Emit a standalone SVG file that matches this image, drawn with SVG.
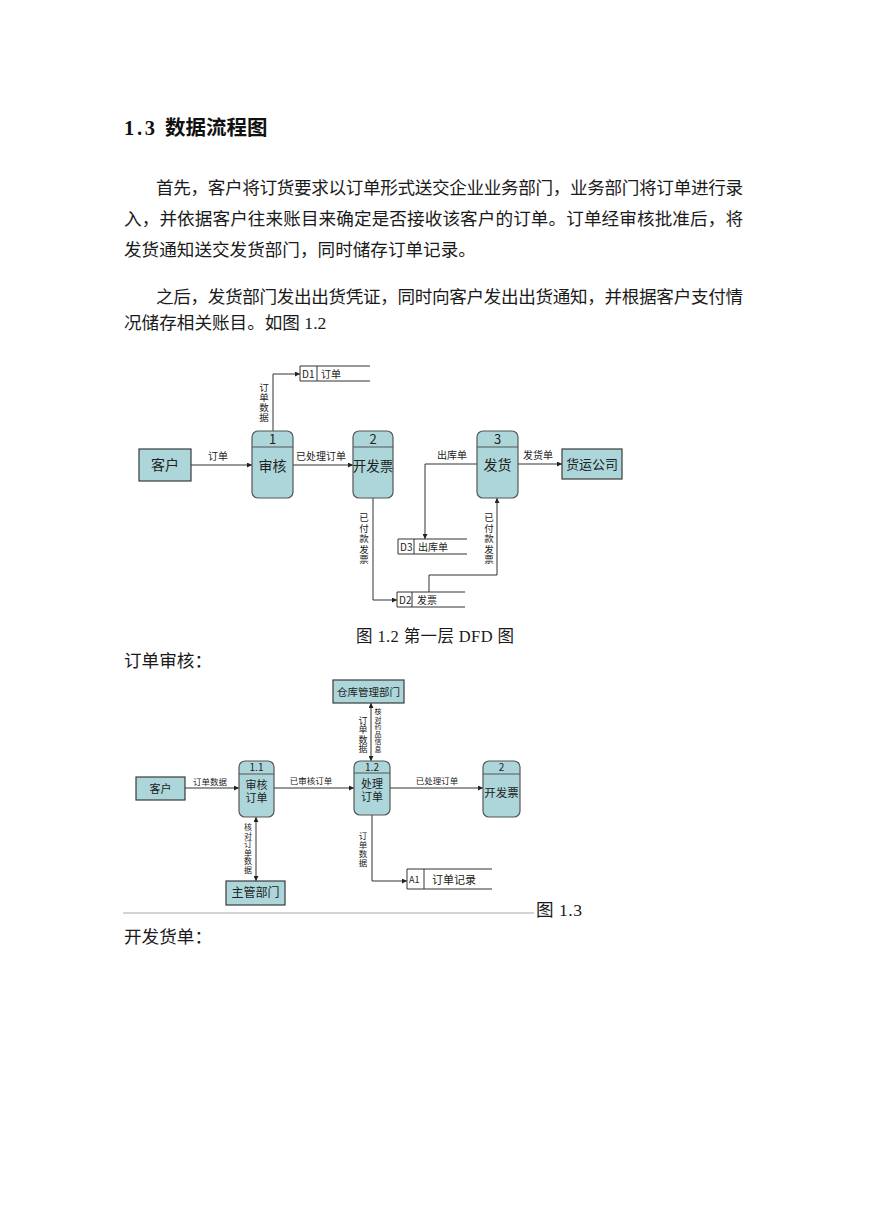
<svg xmlns="http://www.w3.org/2000/svg" width="869" height="1228" viewBox="0 0 869 1228">
<style>
.body{font-family:"Liberation Serif","Noto Sans CJK SC",serif;font-size:17.6px;fill:#1a1a1a}
.title{font-family:"Liberation Serif","Noto Sans CJK SC",sans-serif;font-size:20.5px;font-weight:bold;fill:#111}
.ent{fill:#acd6d9;stroke:#3a3a3a;stroke-width:1.2}
.proc{fill:#acd6d9;stroke:#555;stroke-width:1.2}
.div{stroke:#555;stroke-width:1}
.ds{fill:none;stroke:#333;stroke-width:1}
.c{fill:none;stroke:#333;stroke-width:1}
.t{font-family:"Noto Sans CJK SC",sans-serif;fill:#222;text-anchor:middle}
.s{font-family:"Noto Sans CJK SC",sans-serif;fill:#222}
.v{font-family:"Noto Sans CJK SC",sans-serif;fill:#222;writing-mode:vertical-rl;text-anchor:start}
</style>
<defs>
<marker id="ah" viewBox="0 0 10 10" refX="10" refY="5" markerWidth="6" markerHeight="5" markerUnits="userSpaceOnUse" orient="auto-start-reverse">
<path d="M0,0 L10,5 L0,10 z" fill="#222"/>
</marker>
</defs>
<rect width="869" height="1228" fill="#fff"/>

<g id="text">
<text class="title" y="135"><tspan x="124" textLength="31" lengthAdjust="spacing">1.3</tspan><tspan x="165">数据流程图</tspan></text>
<text class="body" x="156" y="194" textLength="587" lengthAdjust="spacing">首先，客户将订货要求以订单形式送交企业业务部门，业务部门将订单进行录</text>
<text class="body" x="124" y="225" textLength="619" lengthAdjust="spacing">入，并依据客户往来账目来确定是否接收该客户的订单。订单经审核批准后，将</text>
<text class="body" x="124" y="256">发货通知送交发货部门，同时储存订单记录。</text>
<text class="body" x="156" y="303" textLength="587" lengthAdjust="spacing">之后，发货部门发出出货凭证，同时向客户发出出货通知，并根据客户支付情</text>
<text class="body" x="124" y="329">况储存相关账目。如图 1.2</text>
<text class="body" x="356" y="642" style="font-size:16.5px" textLength="158" lengthAdjust="spacing">图 1.2 第一层 DFD 图</text>
<text class="body" x="124" y="667">订单审核：</text>
<line x1="123" y1="913" x2="534" y2="913" stroke="#aaa" stroke-width="1"/>
<text class="body" x="536" y="916" textLength="46" lengthAdjust="spacing">图 1.3</text>
<text class="body" x="124" y="943">开发货单：</text>
</g>

<g id="connectors">
<line class="c" x1="191" y1="465" x2="252" y2="465" marker-end="url(#ah)"/>
<polyline class="c" points="273,431 273,374 300,374" marker-end="url(#ah)"/>
<line class="c" x1="293" y1="465" x2="353" y2="465" marker-end="url(#ah)"/>
<polyline class="c" points="373,498 373,600 397,600" marker-end="url(#ah)"/>
<polyline class="c" points="429,592 429,575 497,575 497,498" marker-end="url(#ah)"/>
<polyline class="c" points="477,464 425,464 425,539" marker-end="url(#ah)"/>
<line class="c" x1="518" y1="464" x2="562" y2="464" marker-end="url(#ah)"/>

<line class="c" x1="185" y1="788" x2="239" y2="788" marker-end="url(#ah)"/>
<line class="c" x1="274" y1="788" x2="354" y2="788" marker-end="url(#ah)"/>
<line class="c" x1="390" y1="788" x2="483" y2="788" marker-end="url(#ah)"/>
<line class="c" x1="371" y1="703" x2="371" y2="761" marker-start="url(#ah)" marker-end="url(#ah)"/>
<polyline class="c" points="372,815 372,881 407,881" marker-end="url(#ah)"/>
<line class="c" x1="256" y1="817" x2="256" y2="881" marker-start="url(#ah)" marker-end="url(#ah)"/>

<g font-size="10">
<text class="t" x="218" y="460">订单</text>
<text class="t" x="321" y="460">已处理订单</text>
<text class="t" x="452" y="459">出库单</text>
<text class="t" x="538" y="459">发货单</text>
<text class="v" x="264" y="383" font-size="9.5" letter-spacing="0.5">订单数据</text>
<text class="v" x="364" y="513" font-size="9.5" letter-spacing="1">已付款发票</text>
<text class="v" x="489" y="513" font-size="9.5" letter-spacing="1">已付款发票</text>
</g>
<g font-size="8.5">
<text class="t" x="210" y="785">订单数据</text>
<text class="t" x="311" y="784">已审核订单</text>
<text class="t" x="437" y="784">已处理订单</text>
<text class="v" x="363" y="716" font-size="9" letter-spacing="0.5">订单数据</text>
<text class="v" x="378" y="708" font-size="7" letter-spacing="0.5">核对药品信息</text>
<text class="v" x="363" y="832" font-size="8.5" letter-spacing="0.3">订单数据</text>
<text class="v" x="248" y="823" font-size="8" letter-spacing="0.5">核对订单数据</text>
</g>
</g>

<g id="n-kehu1">
<rect class="ent" x="139" y="449" width="52" height="32"/>
<text class="t" x="165" y="470" font-size="14">客户</text>
</g>
<g id="n-p1">
<rect class="proc" x="252" y="431" width="41" height="67" rx="6"/>
<line class="div" x1="252" y1="447" x2="293" y2="447"/>
<text class="t" x="272.5" y="444" font-size="13">1</text>
<text class="t" x="272.5" y="471" font-size="14">审核</text>
</g>
<g id="n-p2">
<rect class="proc" x="353" y="431" width="40" height="67" rx="6"/>
<line class="div" x1="353" y1="447" x2="393" y2="447"/>
<text class="t" x="373" y="444" font-size="13">2</text>
<text class="t" x="373" y="471" font-size="13.5">开发票</text>
</g>
<g id="n-p3">
<rect class="proc" x="477" y="431" width="41" height="67" rx="6"/>
<line class="div" x1="477" y1="447" x2="518" y2="447"/>
<text class="t" x="497.5" y="444" font-size="13">3</text>
<text class="t" x="497.5" y="470" font-size="14">发货</text>
</g>
<g id="n-huoyun">
<rect class="ent" x="562" y="449" width="60" height="30"/>
<text class="t" x="592" y="469" font-size="13">货运公司</text>
</g>
<g id="n-d1">
<polyline class="ds" points="370,366 300,366 300,381 370,381"/>
<line class="ds" x1="317" y1="366" x2="317" y2="381"/>
<text class="s" x="302" y="377.5" font-size="10">D1</text>
<text class="s" x="321" y="377.5" font-size="10">订单</text>
</g>
<g id="n-d3">
<polyline class="ds" points="467,539 398,539 398,554 467,554"/>
<line class="ds" x1="414" y1="539" x2="414" y2="554"/>
<text class="s" x="400" y="550.5" font-size="10">D3</text>
<text class="s" x="418" y="550.5" font-size="10">出库单</text>
</g>
<g id="n-d2">
<polyline class="ds" points="465,592 397,592 397,607 465,607"/>
<line class="ds" x1="412" y1="592" x2="412" y2="607"/>
<text class="s" x="399" y="603.5" font-size="10">D2</text>
<text class="s" x="417" y="603.5" font-size="10">发票</text>
</g>

<g id="n-cangku">
<rect class="ent" x="333" y="680" width="71" height="23"/>
<text class="t" x="368.5" y="695.5" font-size="10.5">仓库管理部门</text>
</g>
<g id="n-kehu2">
<rect class="ent" x="136" y="777" width="49" height="23"/>
<text class="t" x="160.5" y="792.5" font-size="11">客户</text>
</g>
<g id="n-p11">
<rect class="proc" x="239" y="761" width="35" height="56" rx="6"/>
<line class="div" x1="239" y1="774" x2="274" y2="774"/>
<text class="t" x="256.5" y="771" font-size="10">1.1</text>
<text class="t" font-size="11"><tspan x="256.5" y="789">审核</tspan><tspan x="256.5" y="802">订单</tspan></text>
</g>
<g id="n-p12">
<rect class="proc" x="354" y="761" width="36" height="54" rx="6"/>
<line class="div" x1="354" y1="773" x2="390" y2="773"/>
<text class="t" x="372" y="770.5" font-size="10">1.2</text>
<text class="t" font-size="11"><tspan x="372" y="788">处理</tspan><tspan x="372" y="801">订单</tspan></text>
</g>
<g id="n-p2b">
<rect class="proc" x="483" y="761" width="37" height="56" rx="6"/>
<line class="div" x1="483" y1="774" x2="520" y2="774"/>
<text class="t" x="501.5" y="771" font-size="10">2</text>
<text class="t" x="501.5" y="797" font-size="11.5">开发票</text>
</g>
<g id="n-a1">
<polyline class="ds" points="492,869 407,869 407,889 492,889"/>
<line class="ds" x1="424" y1="869" x2="424" y2="889"/>
<text class="s" x="409" y="883" font-size="9">A1</text>
<text class="s" x="432" y="883.5" font-size="11">订单记录</text>
</g>
<g id="n-zhuguan">
<rect class="ent" x="226" y="881" width="59" height="24"/>
<text class="t" x="255.5" y="897" font-size="12">主管部门</text>
</g>
</svg>
